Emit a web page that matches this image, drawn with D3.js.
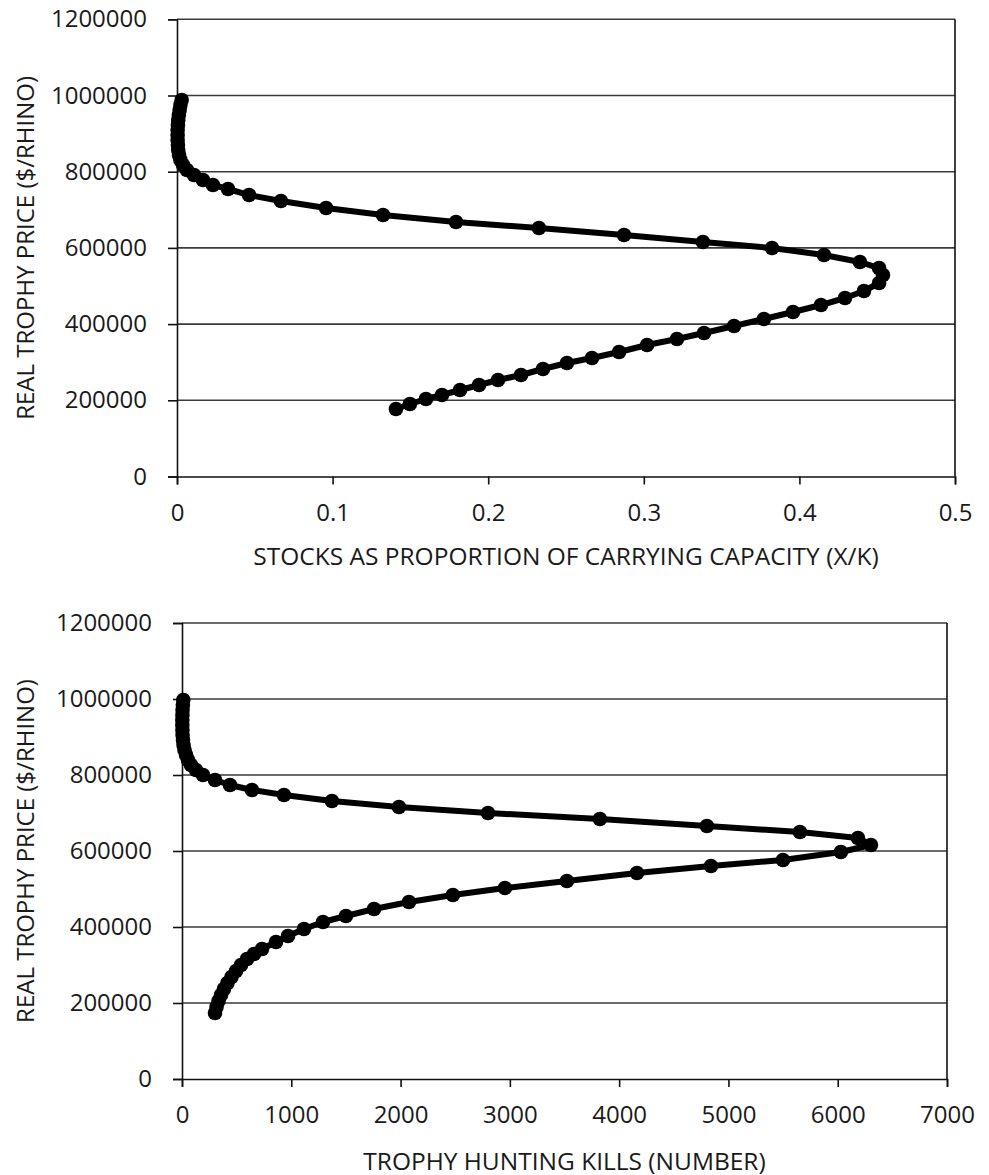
<!DOCTYPE html>
<html><head><meta charset="utf-8">
<script src="https://cdn.jsdelivr.net/npm/d3@7"></script>
<style>body{margin:0;background:#fff} text{font-family:"Open Sans",sans-serif;fill:#1a1a1a}</style>
</head><body><svg id="c" width="989" height="1175"></svg>
<script>
// ---- data ----
const topStock = [0.1407,0.1497,0.1600,0.1703,0.1819,0.1941,0.2063,0.2211,0.2352,0.2506,0.2667,0.2841,0.3021,0.3213,0.3387,0.3580,0.3772,0.3959,0.4139,0.4293,0.4415,0.4512,0.4537,0.4512,0.4389,0.4158,0.3824,0.3380,0.2873,0.2326,0.1793,0.1324,0.0958,0.0668,0.0463,0.0328,0.0231,0.0167,0.0109,0.0064,0.0039,0.0022,0.0013,0.0008,0.0006,0.0004,0.0004,0.0004,0.0006,0.0008,0.0012,0.0017,0.0022,0.0030];
const topPrice = [177200,190300,203400,213900,227000,240200,253300,266400,282200,297900,311000,326800,345100,360900,376600,395000,413400,431800,450100,468500,486900,507900,528900,547200,563000,581400,599700,615500,633900,652200,668000,686400,704700,723100,738800,754600,765100,778200,791300,804500,817600,830700,843800,857000,870100,883200,896300,909500,922600,935700,948800,962000,975100,988200];
const bottomKills = [302,316,334,357,384,416,453,494,540,595,659,732,860,970,1116,1290,1500,1757,2077,2479,2955,3522,4163,4840,5499,6029,6304,6185,5654,4803,3824,2800,1985,1372,933,640,439,302,192,128,82,55,37,23,14,9,5,4,3,3,4,5,8,12];
const bottomPrice = [173700,189500,205300,221100,236800,252600,268400,284200,300000,315800,328900,342100,360500,376300,394700,413200,428900,447400,465800,484200,502600,521000,542100,560500,576300,597400,615800,634200,650000,665800,684200,700000,715800,731600,747400,760500,773700,786800,800000,813200,826300,839500,852600,865800,879000,892100,905300,918400,931600,944700,957900,971000,984200,997400];
const priceTicks = [0,200000,400000,600000,800000,1000000,1200000];
const stockTicks = [0,0.1,0.2,0.3,0.4,0.5];
const killTicks = [0,1000,2000,3000,4000,5000,6000,7000];
const yTitle = "REAL TROPHY PRICE ($/RHINO)";
const xTitleTop = "STOCKS AS PROPORTION OF CARRYING CAPACITY (X/K)";
const xTitleBottom = "TROPHY HUNTING KILLS (NUMBER)";

const svg = d3.select("#c");

function panel(o){
  const g = svg.append("g");
  const x = d3.scaleLinear().domain(o.xDomain).range([o.left,o.right]);
  const y = d3.scaleLinear().domain([0,1200000]).range([o.bottom,o.top]);
  g.selectAll("line.grid").data(o.yTicks.filter(d=>d>0)).join("line")
    .attr("x1",o.left).attr("x2",o.right).attr("y1",d=>y(d)).attr("y2",d=>y(d))
    .attr("stroke","#3a3a3a").attr("stroke-width",1.6);
  g.append("line").attr("x1",o.right).attr("x2",o.right).attr("y1",o.top).attr("y2",o.bottom)
    .attr("stroke","#111").attr("stroke-width",1.6);
  const ya = d3.axisLeft(y).tickValues(o.yTicks).tickSize(9).tickPadding(21).tickFormat(d=>String(d));
  const yg = g.append("g").attr("transform",`translate(${o.left},0)`).call(ya);
  const xa = d3.axisBottom(x).tickValues(o.xTicks).tickSize(8).tickPadding(19).tickFormat(d=>String(d));
  const xg = g.append("g").attr("transform",`translate(0,${o.bottom})`).call(xa);
  [yg,xg].forEach(a=>{
    a.select(".domain").attr("stroke","#111").attr("stroke-width",1.6);
    a.selectAll(".tick line").attr("stroke","#111").attr("stroke-width",1.6);
    a.selectAll(".tick text").style("font-size","24px").attr("fill","#1a1a1a").style("font-family","'Open Sans',sans-serif");
  });
  g.append("text").attr("x",(o.left+o.right)/2).attr("y",o.xTitleY).attr("text-anchor","middle")
    .attr("dominant-baseline","central").style("font-size","24.5px").text(o.xTitle);
  g.append("text").attr("transform",`translate(24,${(o.top+o.bottom)/2}) rotate(-90)`).attr("text-anchor","middle")
    .attr("dominant-baseline","central").style("font-size","24px").text(yTitle);
  const pts = o.xs.map((v,i)=>[v,o.ys[i]]);
  g.append("path").datum(pts).attr("fill","none").attr("stroke","#000").attr("stroke-width",6)
    .attr("stroke-linejoin","round").attr("d",d3.line().x(d=>x(d[0])).y(d=>y(d[1])));
  g.selectAll("circle").data(pts).join("circle").attr("cx",d=>x(d[0])).attr("cy",d=>y(d[1])).attr("r",7.3).attr("fill","#000");
}

panel({xDomain:[0,0.5],left:177,right:955,top:19.3,bottom:476.5,yTicks:priceTicks,xTicks:stockTicks,
  xTitle:xTitleTop,xTitleY:555,xs:topStock,ys:topPrice});
panel({xDomain:[0,7000],left:182,right:947,top:623,bottom:1079,yTicks:priceTicks,xTicks:killTicks,
  xTitle:xTitleBottom,xTitleY:1160,xs:bottomKills,ys:bottomPrice});
</script></body></html>
